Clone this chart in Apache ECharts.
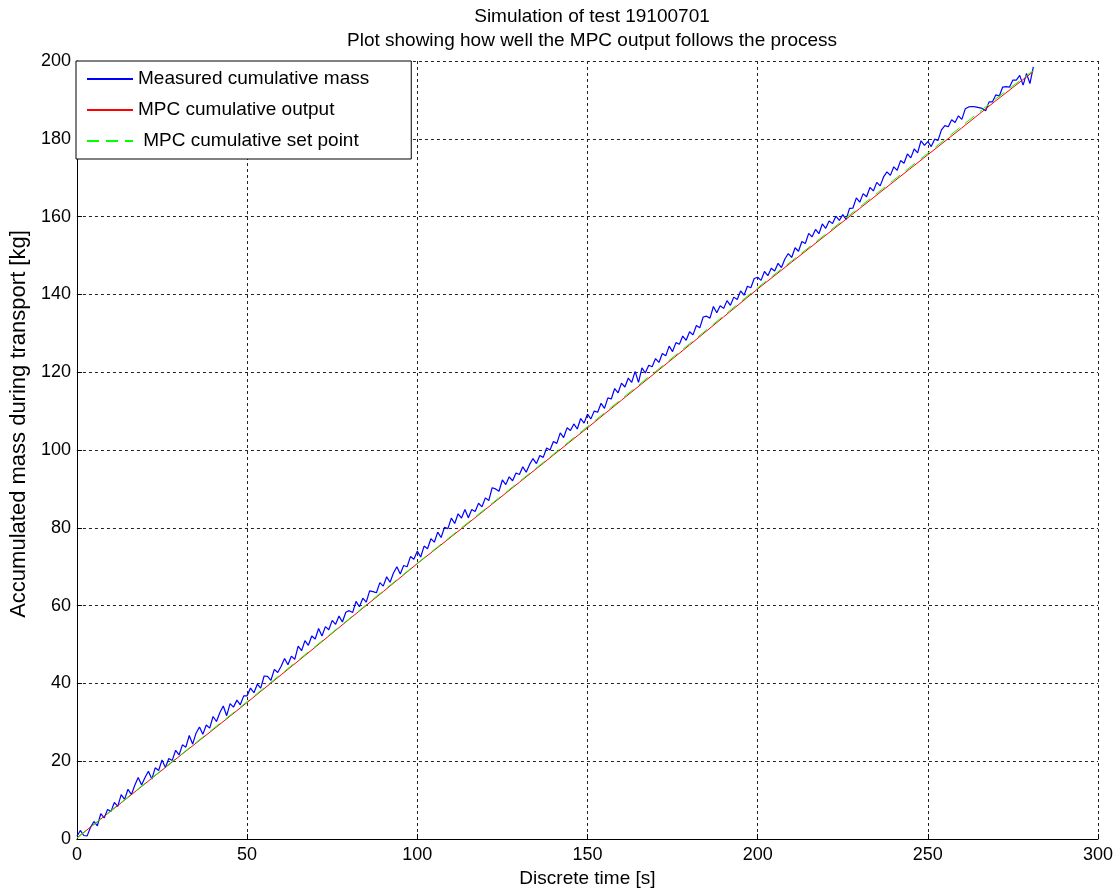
<!DOCTYPE html>
<html>
<head>
<meta charset="utf-8">
<script src="https://cdn.jsdelivr.net/npm/echarts@6/dist/echarts.min.js"></script>
<style>
html,body{margin:0;padding:0;background:#fff;overflow:hidden;}
#chart{width:1120px;height:893px;}
</style>
</head>
<body>
<div id="chart"></div>
<script>
// ---- data ----
const titleLines = ["Simulation of test 19100701", "Plot showing how well the MPC output follows the process"];
const seriesNames = ["Measured cumulative mass", "MPC cumulative output", " MPC cumulative set point"];
const xTicks = [0, 50, 100, 150, 200, 250, 300];
const yTicks = [0, 20, 40, 60, 80, 100, 120, 140, 160, 180, 200];

// measured cumulative mass, one sample per second (t = 0 .. 281 s)
const measuredTime = Array.from({length: 282}, (_, i) => i);
const measuredMass = [
0.7,2.2,0.9,0.8,3.0,4.5,3.4,6.5,5.4,7.6,
7.1,9.4,8.4,11.4,10.2,12.8,11.4,13.8,15.8,13.9,
15.8,17.4,15.4,18.3,17.6,20.3,18.4,20.7,20.2,22.8,
21.6,24.2,23.6,26.6,24.4,27.2,28.8,26.9,29.3,28.5,
31.5,30.2,32.5,34.2,31.7,34.8,33.9,35.7,34.5,36.8,
36.8,38.8,37.6,39.8,38.8,41.9,41.8,40.8,43.6,42.8,
44.4,46.4,44.8,47.0,46.2,49.6,48.4,51.0,49.8,52.2,
51.4,54.1,52.2,54.6,53.8,56.2,55.2,57.3,55.8,58.3,
58.7,58.2,61.1,59.7,61.9,60.9,63.8,63.6,63.3,65.9,
65.0,67.4,66.0,68.4,70.0,68.1,70.3,70.0,72.6,71.9,
74.0,72.5,75.3,74.6,77.2,76.3,78.9,77.5,80.1,79.8,
82.5,81.1,83.6,82.5,84.7,82.6,84.7,84.2,86.3,85.4,
87.7,87.0,90.3,90.0,89.4,92.3,91.1,93.1,92.1,94.1,
93.7,95.7,94.3,96.3,97.8,96.5,98.6,98.1,100.5,100.0,
102.2,101.7,104.4,103.2,105.7,105.0,106.7,105.4,108.1,106.9,
109.2,108.0,110.0,109.7,112.0,110.7,113.4,113.1,115.8,114.7,
117.2,116.2,118.5,117.4,120.2,117.4,121.1,119.8,121.8,121.4,
123.5,122.5,124.8,124.2,126.7,125.3,127.6,127.2,129.3,128.2,
130.4,129.6,132.0,131.4,134.2,134.4,133.9,136.9,135.3,137.1,
136.4,138.4,137.2,139.3,138.7,140.9,139.8,142.1,141.7,144.1,
144.4,143.6,145.9,144.8,146.7,146.0,148.0,146.9,149.1,150.5,
149.5,152.0,151.1,153.6,153.1,155.7,154.8,156.7,155.6,158.1,
157.0,158.9,158.2,160.1,159.0,160.5,159.3,162.1,162.2,164.8,
163.7,165.9,165.1,167.5,166.6,168.8,167.9,170.2,171.5,170.6,
172.8,171.9,174.4,173.7,176.1,175.1,177.4,176.4,179.5,178.3,
179.3,178.0,179.9,179.6,182.3,183.4,183.1,184.9,184.2,185.9,
185.0,187.7,188.2,188.3,188.2,188.0,187.8,187.2,189.5,189.5,
191.3,191.0,193.3,193.4,193.3,195.1,195.1,196.3,193.8,196.8,
194.2,198.5
];

// MPC output and set point, every 10 s
const mpcTime = [0,10,20,30,40,50,60,70,80,90,100,110,120,130,140,150,160,170,180,190,200,210,220,230,240,250,260,270,280,281];
const mpcOutput = [0.3,7.2,14.2,21.2,28.1,35.1,42.2,49.3,56.5,63.6,70.8,77.7,84.7,91.7,98.7,105.7,112.8,119.9,127.0,134.2,141.4,148.3,155.2,162.1,169.0,175.9,182.8,189.8,196.6,197.3];
const mpcSetPoint = [0.2,7.3,14.3,21.3,28.3,35.3,42.4,49.5,56.6,63.8,70.9,77.9,84.9,91.9,98.9,106.0,113.1,120.2,127.3,134.5,141.7,148.6,155.5,162.5,169.4,176.3,183.3,190.3,196.9,197.5];

const xName = "Discrete time [s]";
const yName = "Accumulated mass during transport [kg]";

// ---- chart ----
const FONT = "Liberation Sans, Arial, sans-serif";
const pairs = (xs, ys) => xs.map((x, i) => [x, ys[i]]);
const chart = echarts.init(document.getElementById('chart'), null, {renderer: 'canvas', width: 1120, height: 893});

const gridLine = {show: true, lineStyle: {color: '#222', width: 1, type: [3, 3]}};

chart.setOption({
  animation: false,
  backgroundColor: '#fff',
  title: {
    text: titleLines.join('\n'),
    left: 587, top: 0, textAlign: 'center',
    textStyle: {fontFamily: FONT, fontSize: 19, fontWeight: 'normal', color: '#000', lineHeight: 24}
  },
  grid: {left: 76, top: 61, width: 1022, height: 779, containLabel: false},
  legend: {
    orient: 'vertical', left: 76, top: 61,
    backgroundColor: '#fff', borderColor: '#000', borderWidth: 1,
    padding: [8, 42, 8, 10], itemGap: 11,
    itemWidth: 46, itemHeight: 14,
    symbolSize: 0,
    itemStyle: {opacity: 0, borderWidth: 0},
    textStyle: {fontFamily: FONT, fontSize: 19, color: '#000', lineHeight: 20},
    data: seriesNames
  },
  xAxis: {
    type: 'value', min: 0, max: 300, interval: 50,
    name: xName, nameLocation: 'middle', nameGap: 30,
    nameTextStyle: {fontFamily: FONT, fontSize: 19, color: '#000'},
    axisLine: {show: true, onZero: false, lineStyle: {color: '#000', width: 1}},
    axisTick: {show: true, inside: true, length: 5, lineStyle: {color: '#000'}},
    axisLabel: {fontFamily: FONT, fontSize: 18, color: '#000', margin: 7,
      formatter: v => xTicks.includes(v) ? String(v) : ''},
    splitLine: gridLine
  },
  yAxis: {
    type: 'value', min: 0, max: 200, interval: 20,
    name: yName, nameLocation: 'middle', nameGap: 45,
    nameTextStyle: {fontFamily: FONT, fontSize: 22, color: '#000', padding: [0, 0, 0, 52]},
    axisLine: {show: true, onZero: false, lineStyle: {color: '#000', width: 1}},
    axisTick: {show: true, inside: true, length: 5, lineStyle: {color: '#000'}},
    axisLabel: {fontFamily: FONT, fontSize: 18, color: '#000', margin: 6,
      formatter: v => yTicks.includes(v) ? String(v) : ''},
    splitLine: gridLine
  },
  series: [
    {name: seriesNames[0], type: 'line', data: pairs(measuredTime, measuredMass),
     showSymbol: false, symbol: 'none', lineStyle: {color: '#0000ff', width: 1.2}, itemStyle: {color: '#0000ff'}},
    {name: seriesNames[1], type: 'line', data: pairs(mpcTime, mpcOutput),
     showSymbol: false, symbol: 'none', lineStyle: {color: '#ff0000', width: 1}, itemStyle: {color: '#ff0000'}},
    {name: seriesNames[2], type: 'line', data: pairs(mpcTime, mpcSetPoint),
     showSymbol: false, symbol: 'none', lineStyle: {color: '#00ff00', width: 1, type: [12, 7]}, itemStyle: {color: '#00ff00'}}
  ]
});
</script>
</body>
</html>
